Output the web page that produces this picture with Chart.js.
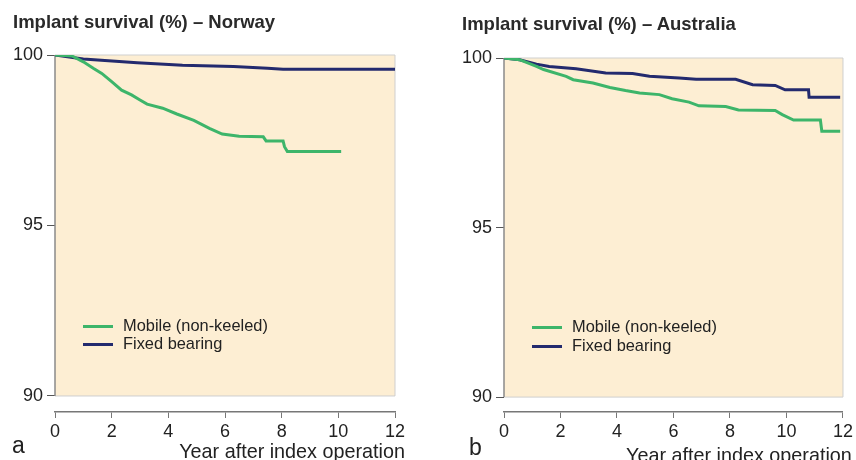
<!doctype html>
<html lang="en">
  <head>
    <meta charset="utf-8">
    <title>Implant survival</title>
    <script src="https://cdn.jsdelivr.net/npm/chart.js@4.4.1/dist/chart.umd.min.js"></script>
    <style>
      body { margin: 0; width: 856px; height: 460px; position: relative; overflow: hidden; background: #fff;
             font-family: "Liberation Sans", Arial, sans-serif; color: #222; }
      .box { position: absolute; top: 0; height: 460px; }
      .txt { position: absolute; white-space: nowrap; z-index: 2; }
      .title { font-size: 18.5px; font-weight: bold; color: #2a2a2a; }
      .panel { font-size: 23px; }
      .axis { font-size: 19.8px; }
      .leg { font-size: 16.4px; }
      .sw { position: absolute; height: 3px; width: 30px; z-index: 2; }
    </style>
  </head>
  <body>
    <div class="box" style="left:0;width:428px"><canvas id="norway" width="428" height="460"></canvas></div>
    <div class="box" style="left:450px;width:406px"><canvas id="australia" width="406" height="460"></canvas></div>

    <div class="txt title" style="left:13px;top:11px">Implant survival (%) – Norway</div>
    <div class="txt title" style="left:462px;top:13px">Implant survival (%) – Australia</div>
    <div class="txt panel" style="left:12px;top:432px">a</div>
    <div class="txt panel" style="left:469px;top:434px">b</div>
    <div class="txt axis" style="right:451px;top:440px">Year after index operation</div>
    <div class="txt axis" style="left:626px;top:444px">Year after index operation</div>

    <!-- legends -->
    <div class="sw" style="left:83px;top:325px;background:#3db56a"></div>
    <div class="txt leg" style="left:123px;top:316px">Mobile (non-keeled)</div>
    <div class="sw" style="left:83px;top:343px;background:#232a6e"></div>
    <div class="txt leg" style="left:123px;top:334px">Fixed bearing</div>

    <div class="sw" style="left:532px;top:326px;background:#3db56a"></div>
    <div class="txt leg" style="left:572px;top:317px">Mobile (non-keeled)</div>
    <div class="sw" style="left:532px;top:345px;background:#232a6e"></div>
    <div class="txt leg" style="left:572px;top:336px">Fixed bearing</div>

    <script>
      // Norway
      var norwayMobileYears = [0, 0.6, 1.0, 1.35, 1.65, 2.0, 2.35, 2.7, 3.0, 3.25, 3.8, 4.3, 4.9, 5.45, 5.9, 6.5, 7.35, 7.45, 8.05, 8.1, 8.2, 10.1];
      var norwayMobileSurv  = [100, 99.97, 99.8, 99.61, 99.46, 99.22, 98.97, 98.83, 98.68, 98.56, 98.44, 98.27, 98.08, 97.85, 97.68, 97.62, 97.6, 97.48, 97.48, 97.31, 97.17, 97.17];
      var norwayFixedYears  = [0, 1.0, 2.9, 4.5, 6.3, 7.5, 8.05, 12];
      var norwayFixedSurv   = [100, 99.88, 99.77, 99.7, 99.66, 99.61, 99.58, 99.58];

      // Australia
      var ausMobileYears = [0, 0.55, 1.15, 1.4, 2.2, 2.45, 3.15, 3.75, 4.3, 4.8, 5.5, 5.95, 6.55, 6.9, 7.85, 8.3, 9.6, 9.85, 10.25, 11.2, 11.25, 11.9];
      var ausMobileSurv  = [100, 99.95, 99.75, 99.66, 99.46, 99.36, 99.26, 99.13, 99.04, 98.97, 98.92, 98.8, 98.7, 98.59, 98.57, 98.47, 98.45, 98.33, 98.17, 98.17, 97.84, 97.84];
      var ausFixedYears  = [0, 0.55, 1.15, 1.6, 2.55, 3.6, 4.55, 5.15, 6.2, 6.8, 8.2, 8.8, 9.6, 9.95, 10.78, 10.8, 11.9];
      var ausFixedSurv   = [100, 99.95, 99.82, 99.75, 99.68, 99.56, 99.54, 99.46, 99.41, 99.37, 99.37, 99.21, 99.19, 99.06, 99.06, 98.84, 98.84];

      var yTicks = [90, 95, 100];
      var xMax = 12;

      function pts(xs, ys) {
        return xs.map(function (x, i) { return { x: x, y: ys[i] }; });
      }

      // peach plot box between 90 and 100 only
      var boxPlugin = {
        id: 'box',
        beforeDatasetsDraw: function (chart) {
          var ctx = chart.ctx, x = chart.scales.x, y = chart.scales.y;
          var l = x.getPixelForValue(0), r = x.getPixelForValue(xMax);
          var t = y.getPixelForValue(100), b = y.getPixelForValue(90);
          ctx.save();
          ctx.fillStyle = '#fdeed3';
          ctx.fillRect(l, t, r - l, b - t);
          ctx.strokeStyle = '#cfcfcf';
          ctx.lineWidth = 1;
          ctx.beginPath();
          ctx.moveTo(l, t); ctx.lineTo(r, t); ctx.lineTo(r, b); ctx.lineTo(l, b);
          ctx.stroke();
          ctx.strokeStyle = '#8a8a8a';
          ctx.lineWidth = 1.5;
          ctx.beginPath();
          ctx.moveTo(l, t); ctx.lineTo(l, b);
          ctx.stroke();
          ctx.restore();
        }
      };

      function drawGraph(id, mx, my, fx, fy, yMin, pad, yWidth) {
        new Chart(document.getElementById(id), {
          type: 'line',
          data: {
            datasets: [
              { label: 'Mobile (non-keeled)', data: pts(mx, my), borderColor: '#3db56a', borderWidth: 3, pointRadius: 0, tension: 0 },
              { label: 'Fixed bearing', data: pts(fx, fy), borderColor: '#232a6e', borderWidth: 3, pointRadius: 0, tension: 0 }
            ]
          },
          options: {
            responsive: false,
            animation: false,
            layout: { padding: pad },
            plugins: { legend: { display: false }, tooltip: { enabled: false } },
            scales: {
              x: {
                type: 'linear', min: 0, max: xMax,
                ticks: { stepSize: 2, color: '#222', padding: 3, font: { family: 'Liberation Sans', size: 18 } },
                grid: { drawOnChartArea: false, drawTicks: true, tickLength: 6, color: '#777' },
                border: { display: true, color: '#777', width: 1.5 },
                afterFit: function (s) { s.height = 48; }
              },
              y: {
                min: yMin, max: 100,
                afterBuildTicks: function (s) { s.ticks = yTicks.map(function (v) { return { value: v }; }); },
                ticks: { color: '#222', padding: 4, font: { family: 'Liberation Sans', size: 18 } },
                grid: { drawOnChartArea: false, drawTicks: true, tickLength: 8, color: '#555' },
                border: { display: false },
                afterFit: function (s) { s.width = yWidth; }
              }
            }
          },
          plugins: [boxPlugin]
        });
      }

      drawGraph('norway', norwayMobileYears, norwayMobileSurv, norwayFixedYears, norwayFixedSurv,
                89.53, { top: 55, right: 33, bottom: 0, left: 0 }, 55);
      drawGraph('australia', ausMobileYears, ausMobileSurv, ausFixedYears, ausFixedSurv,
                89.56, { top: 58, right: 13, bottom: 0, left: 0 }, 54);
    </script>
  </body>
</html>
